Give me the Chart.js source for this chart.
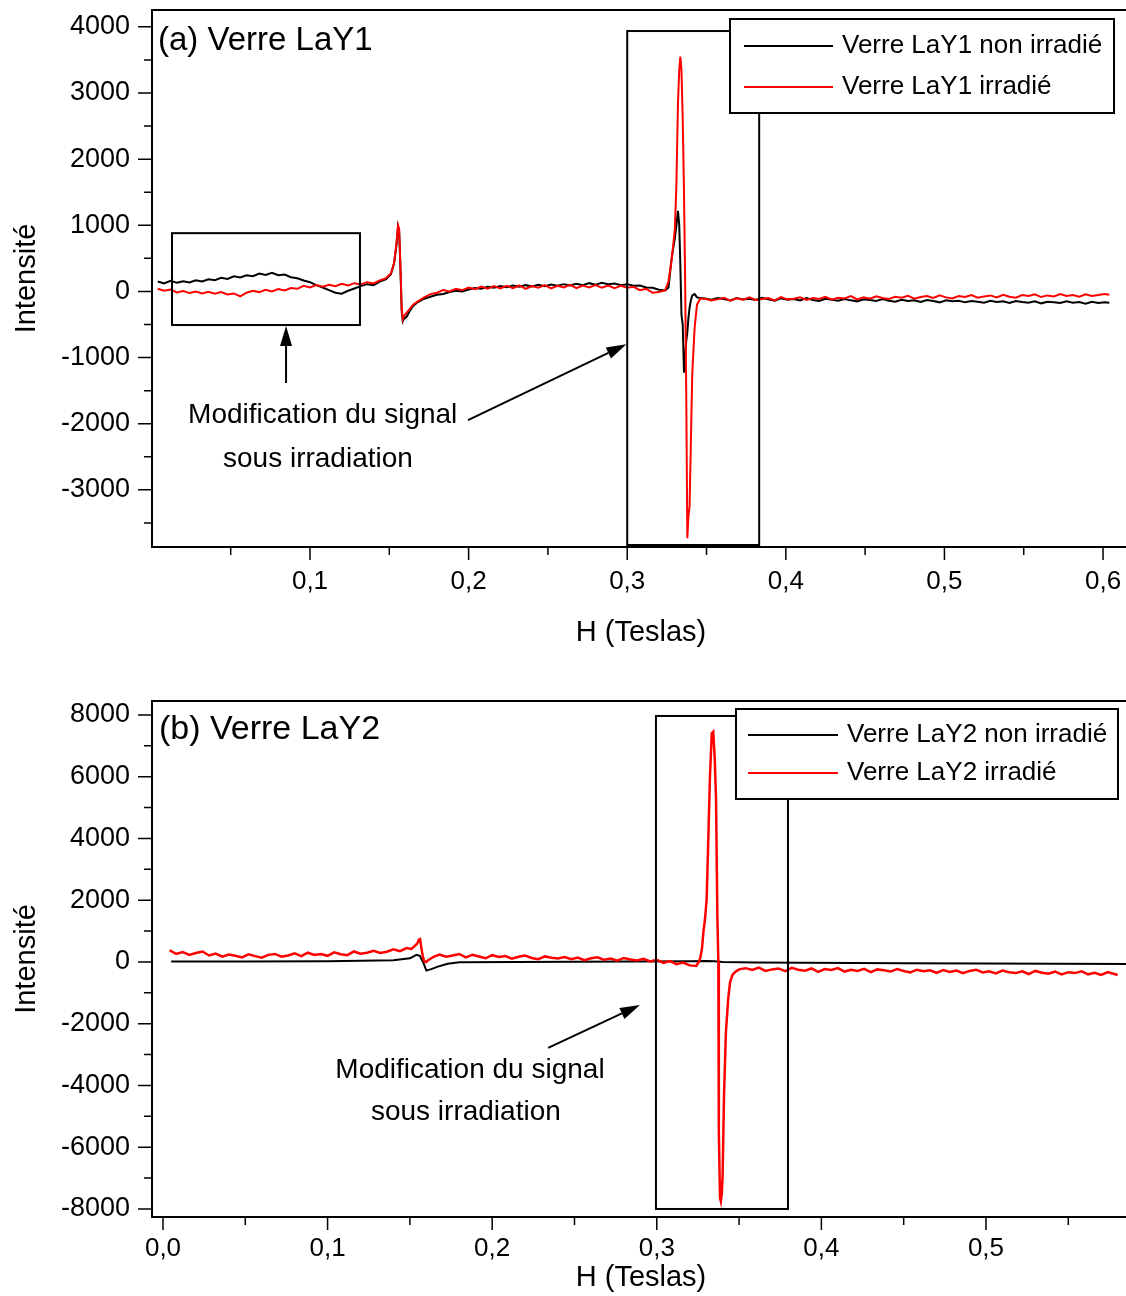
<!DOCTYPE html>
<html>
<head>
<meta charset="utf-8">
<script src="https://cdn.jsdelivr.net/npm/chart.js@4.4.1/dist/chart.umd.min.js"></script>
<style>
  html, body { margin: 0; padding: 0; background: #fff; overflow: hidden; }
  #page { position: relative; width: 1126px; height: 1296px; overflow: hidden; background: #fff; }
  #topWrap { position: absolute; left: 0; top: 0; }
  #botWrap { position: absolute; left: 0; top: 660px; }
</style>
</head>
<body>
<div id="page">
  <div id="topWrap"><canvas id="topChart" width="1130" height="660"></canvas></div>
  <div id="botWrap"><canvas id="botChart" width="1130" height="636"></canvas></div>
</div>
<script>
var FONT = "'Liberation Sans', Arial, Helvetica, sans-serif";

// ---- (a) Verre LaY1 : field (T) and intensities ----
var topH = [
    0.004,0.008,0.012,0.016,0.020,0.024,0.028,0.032,0.036,0.040,0.044,0.048,0.052,0.056,0.060,0.064,0.068,0.072,0.076,0.080,
    0.084,0.088,0.092,0.096,0.100,0.104,0.108,0.112,0.116,0.120,0.124,0.128,0.132,0.136,0.140,0.144,0.148,
    0.151,0.153,0.1545,0.1555,0.1562,0.157,0.1578,0.1585,0.159,0.160,0.161,0.163,0.165,
    0.168,0.172,0.176,0.180,0.184,0.188,0.192,0.196,0.200,0.204,0.208,0.212,0.216,0.220,0.224,0.228,0.232,0.236,0.240,0.244,
    0.248,0.252,0.256,0.260,0.264,0.268,0.272,0.276,0.280,0.284,0.288,0.292,0.296,0.300,0.304,0.308,0.312,0.316,0.320,0.324,
    0.326,0.328,0.329,0.330,0.331,0.332,0.3328,0.3335,0.3342,0.335,0.3358,0.3365,0.3372,0.3379,0.3386,0.3393,0.340,0.341,0.3425,0.344,0.346,
    0.349,0.353,0.357,0.361,0.365,0.369,0.373,0.377,0.381,0.385,0.389,0.393,0.397,0.401,0.405,0.409,0.413,0.417,0.421,0.425,
    0.429,0.433,0.437,0.441,0.445,0.449,0.453,0.457,0.461,0.465,0.469,0.473,0.477,0.481,0.485,0.489,0.493,0.497,0.501,0.505,
    0.509,0.513,0.517,0.521,0.525,0.529,0.533,0.537,0.541,0.545,0.549,0.553,0.557,0.561,0.565,0.569,0.573,0.577,0.581,0.585,
    0.589,0.593,0.597,0.601,0.604
];
var topBlack = [
    150,120,160,130,155,135,170,150,185,170,205,190,230,210,245,230,270,250,280,245,
    255,215,200,165,140,95,60,20,-20,-35,10,45,80,110,95,150,185,
    260,420,700,980,900,350,-300,-450,-420,-400,-380,-290,-220,
    -160,-110,-80,-50,-40,-10,10,0,30,50,40,70,55,80,65,90,70,95,75,100,
    80,105,85,110,90,115,95,125,100,130,110,120,95,110,85,90,60,55,25,15,
    60,500,650,800,1000,1220,1000,400,-350,-500,-1230,-1000,-750,-620,-400,-250,-150,-60,-40,-90,-100,
    -105,-125,-100,-115,-135,-100,-120,-110,-130,-95,-120,-140,-105,-125,-115,-135,-100,-130,-145,-110,
    -125,-140,-115,-135,-150,-120,-130,-145,-115,-140,-155,-125,-145,-135,-160,-130,-145,-165,-135,-150,
    -140,-165,-145,-155,-170,-140,-160,-150,-175,-145,-160,-170,-150,-180,-155,-165,-175,-150,-170,-160,
    -185,-155,-175,-165,-170
];
var topRed = [
    40,10,30,-15,5,-25,0,-30,-5,-35,-10,-45,-30,-75,-20,10,-10,25,0,35,
    15,50,40,85,60,95,70,100,80,115,90,125,105,140,120,165,200,
    270,430,720,1000,950,400,-250,-420,-380,-350,-320,-260,-200,
    -150,-90,-40,-20,20,0,40,20,60,35,75,40,80,45,85,50,90,40,80,55,
    95,45,85,60,100,50,90,60,95,55,90,50,85,55,70,20,40,-20,-10,20,
    150,480,700,930,1600,2850,3350,3550,3350,2600,1500,200,-1500,-3730,-3400,-3250,-2450,-1250,-550,-200,-110,
    -110,-135,-120,-95,-140,-105,-125,-90,-130,-115,-100,-135,-85,-120,-110,-90,-130,-100,-115,-80,
    -125,-95,-105,-70,-120,-90,-110,-75,-100,-115,-80,-95,-65,-110,-85,-70,-100,-60,-90,-105,
    -70,-85,-55,-95,-75,-60,-90,-50,-80,-95,-55,-70,-45,-85,-60,-75,-40,-70,-55,-80,
    -45,-70,-55,-40,-50
];
var topXTicks = [0.05, 0.1, 0.15, 0.2, 0.25, 0.3, 0.35, 0.4, 0.45, 0.5, 0.55, 0.6];
var topYTicks = [-3500, -3000, -2500, -2000, -1500, -1000, -500, 0, 500, 1000, 1500, 2000, 2500, 3000, 3500, 4000];

// ---- (b) Verre LaY2 ----
var botH = [
    0.004,0.008,0.012,0.016,0.020,0.024,0.028,0.032,0.036,0.040,0.044,0.048,0.052,0.056,0.060,0.064,0.068,0.072,0.076,0.080,
    0.084,0.088,0.092,0.096,0.100,0.104,0.108,0.112,0.116,0.120,0.124,0.128,0.132,0.136,0.140,0.144,0.148,
    0.151,0.153,0.1545,0.1555,0.1562,0.157,0.1578,0.1585,0.159,0.160,0.161,0.163,0.165,
    0.168,0.172,0.176,0.180,0.184,0.188,0.192,0.196,0.200,0.204,0.208,0.212,0.216,0.220,0.224,0.228,0.232,0.236,0.240,0.244,
    0.248,0.252,0.256,0.260,0.264,0.268,0.272,0.276,0.280,0.284,0.288,0.292,0.296,0.300,0.304,0.308,0.312,0.316,0.320,0.324,
    0.3255,0.3265,0.3275,0.3283,0.3293,0.3303,0.3313,0.3323,0.3334,0.3343,0.3352,0.3360,0.3368,0.3374,0.3377,0.3384,0.3389,
    0.3395,0.3400,0.3408,0.3420,0.3434,0.3445,0.3460,0.3475,0.3490,0.3505,
    0.354,0.358,0.362,0.366,0.370,0.374,0.378,0.382,0.386,0.390,0.394,0.398,0.402,0.406,0.410,0.414,0.418,0.422,0.426,0.430,
    0.434,0.438,0.442,0.446,0.450,0.454,0.458,0.462,0.466,0.470,0.474,0.478,0.482,0.486,0.490,0.494,0.498,0.502,0.506,0.510,
    0.514,0.518,0.522,0.526,0.530,0.534,0.538,0.542,0.546,0.550,0.554,0.558,0.562,0.566,0.570,0.574,0.578,0.580
];
var botRed = [
    380,260,320,230,290,340,210,270,170,240,200,150,250,190,140,230,260,170,210,280,
    190,300,230,260,200,310,250,220,340,270,300,360,290,330,410,350,450,
    420,520,600,720,740,450,200,60,20,0,60,120,180,
    240,170,210,260,150,230,180,120,220,160,190,110,170,210,130,90,180,140,110,160,
    90,140,60,120,150,70,110,40,130,80,50,100,20,70,-30,30,-70,-20,-110,-130,
    0,150,450,960,1400,2030,3970,6010,7410,7460,6600,5260,1500,0,-5480,-7640,-7750,
    -7500,-6900,-4420,-2270,-1190,-660,-420,-330,-270,-230,
    -200,-260,-180,-290,-240,-210,-300,-190,-250,-280,-210,-320,-230,-260,-200,-310,-250,-290,-220,-330,
    -240,-270,-310,-230,-290,-340,-250,-300,-270,-350,-260,-320,-280,-360,-290,-250,-340,-300,-370,-280,
    -330,-360,-300,-390,-290,-350,-380,-310,-400,-330,-360,-300,-400,-350,-420,-330,-390,-420
];
var botBlackH = [0.005, 0.05, 0.10, 0.14, 0.150, 0.154, 0.156, 0.158, 0.160, 0.163, 0.167, 0.173, 0.180, 0.25, 0.32, 0.33, 0.335, 0.34, 0.36, 0.45, 0.50, 0.59];
var botBlack  = [15, 15, 20, 60, 120, 230, 200, 0, -280, -230, -150, -60, -10, 10, 20, 30, 20, 0, -20, -40, -50, -65];
var botXTicks = [0, 0.05, 0.1, 0.15, 0.2, 0.25, 0.3, 0.35, 0.4, 0.45, 0.5, 0.55];
var botYTicks = [-8000, -7000, -6000, -5000, -4000, -3000, -2000, -1000, 0, 1000, 2000, 3000, 4000, 5000, 6000, 7000, 8000];

function pts(xs, ys) {
    return xs.map(function (h, i) { return { x: h, y: ys[i] }; });
}
function xLabel(v) {
    return Math.round(v * 100) % 10 === 0 ? v.toFixed(1).replace('.', ',') : '';
}

// frame, outward tick marks, boxed legend, panel label and annotations
var decor = {
    id: 'decor',
    afterDraw: function (chart, args, o) {
        var ctx = chart.ctx, a = chart.chartArea, xs = chart.scales.x, ys = chart.scales.y;
        ctx.save();
        ctx.strokeStyle = '#000';
        ctx.fillStyle = '#000';
        ctx.lineWidth = 2;
        ctx.strokeRect(a.left, a.top, a.right - a.left, a.bottom - a.top);

        ctx.lineWidth = 1.5;
        ctx.beginPath();
        xs.ticks.forEach(function (t) {
            var px = xs.getPixelForValue(t.value);
            ctx.moveTo(px, a.bottom);
            ctx.lineTo(px, a.bottom + (t.label ? 13 : 8));
        });
        ys.ticks.forEach(function (t) {
            var py = ys.getPixelForValue(t.value);
            ctx.moveTo(a.left, py);
            ctx.lineTo(a.left - (t.label ? 14 : 8), py);
        });
        ctx.stroke();

        ctx.lineWidth = 2;
        o.boxes.forEach(function (b) {
            var x1 = xs.getPixelForValue(b.x0), x2 = xs.getPixelForValue(b.x1);
            var y1 = ys.getPixelForValue(b.y1), y2 = ys.getPixelForValue(b.y0);
            ctx.strokeRect(x1, y1, x2 - x1, y2 - y1);
        });

        o.arrows.forEach(function (r) {
            var x1 = xs.getPixelForValue(r.from[0]), y1 = ys.getPixelForValue(r.from[1]);
            var x2 = xs.getPixelForValue(r.to[0]), y2 = ys.getPixelForValue(r.to[1]);
            var ang = Math.atan2(y2 - y1, x2 - x1), hl = 20, hw = 6;
            var c = Math.cos(ang), s = Math.sin(ang);
            ctx.beginPath();
            ctx.moveTo(x1, y1);
            ctx.lineTo(x2 - hl * c, y2 - hl * s);
            ctx.stroke();
            ctx.beginPath();
            ctx.moveTo(x2, y2);
            ctx.lineTo(x2 - hl * c + hw * s, y2 - hl * s - hw * c);
            ctx.lineTo(x2 - hl * c - hw * s, y2 - hl * s + hw * c);
            ctx.closePath();
            ctx.fill();
        });

        ctx.font = o.noteFont;
        ctx.textAlign = 'center';
        ctx.textBaseline = 'middle';
        o.notes.forEach(function (n) {
            ctx.fillText(n.text, xs.getPixelForValue(n.x), ys.getPixelForValue(n.y));
        });

        ctx.font = o.labelFont;
        ctx.textAlign = 'left';
        ctx.fillText(o.label, a.left + o.labelDx, a.top + o.labelDy);

        // legend
        var L = o.legend;
        ctx.fillStyle = '#fff';
        ctx.fillRect(L.x, L.y, L.w, L.h);
        ctx.strokeStyle = '#000';
        ctx.lineWidth = 2;
        ctx.strokeRect(L.x, L.y, L.w, L.h);
        ctx.font = L.font;
        chart.data.datasets.forEach(function (ds, i) {
            var yy = L.y + L.rows[i];
            ctx.strokeStyle = ds.borderColor;
            ctx.lineWidth = 2;
            ctx.beginPath();
            ctx.moveTo(L.x + L.line[0], yy);
            ctx.lineTo(L.x + L.line[1], yy);
            ctx.stroke();
            ctx.fillStyle = '#000';
            ctx.fillText(ds.label, L.x + L.text, yy);
        });
        ctx.restore();
    }
};

// fixed scale boxes, no extra room for overflowing tick labels
function noPad(s) {
    s.paddingTop = 0; s.paddingBottom = 0; s.paddingLeft = 0; s.paddingRight = 0;
}
function xScale(min, max, tickList, height, tickPad, titlePad) {
    return {
        type: 'linear', min: min, max: max,
        afterBuildTicks: function (s) { s.ticks = tickList.map(function (v) { return { value: v }; }); },
        afterFit: function (s) { s.height = height; noPad(s); },
        grid: { display: false, drawTicks: false },
        border: { display: false },
        ticks: { callback: xLabel, padding: tickPad, autoSkip: false, maxRotation: 0, color: '#000', font: { family: FONT, size: 26 } },
        title: { display: true, text: 'H (Teslas)', color: '#000', font: { family: FONT, size: 29 }, padding: { top: 0, bottom: titlePad } }
    };
}
function yScale(min, max, tickList, every) {
    return {
        min: min, max: max,
        afterBuildTicks: function (s) { s.ticks = tickList.map(function (v) { return { value: v }; }); },
        afterFit: function (s) { s.width = 152; noPad(s); },
        grid: { display: false, drawTicks: false },
        border: { display: false },
        ticks: {
            callback: function (v) { return v % every === 0 ? String(v) : ''; },
            padding: 22, autoSkip: false, color: '#000', font: { family: FONT, size: 27 }
        },
        title: { display: true, text: 'Intensité', color: '#000', font: { family: FONT, size: 29 }, padding: { top: 10, bottom: 0 } }
    };
}

// ---- Chart (a) ----
new Chart(document.getElementById('topChart'), {
    type: 'line',
    data: {
        datasets: [{
            label: 'Verre LaY1 non irradié',
            data: pts(topH, topBlack),
            borderColor: '#000000', borderWidth: 2, pointRadius: 0, order: 1
        }, {
            label: 'Verre LaY1 irradié',
            data: pts(topH, topRed),
            borderColor: '#ff0000', borderWidth: 2, pointRadius: 0, order: 0
        }]
    },
    options: {
        responsive: false, animation: false, devicePixelRatio: 1,
        layout: { padding: { top: 10, left: 0, right: 0, bottom: 0 } },
        scales: {
            x: xScale(0.000378, 0.617, topXTicks, 113, 19, 10),
            y: yScale(-3864, 4255, topYTicks, 1000)
        },
        plugins: {
            legend: { display: false },
            tooltip: { enabled: false },
            decor: {
                label: '(a) Verre LaY1', labelFont: '33px ' + FONT, labelDx: 6, labelDy: 31,
                noteFont: '28px ' + FONT,
                boxes: [
                    { x0: 0.013, x1: 0.1315, y0: -508, y1: 881 },
                    { x0: 0.300, x1: 0.3832, y0: -3834, y1: 3937 }
                ],
                arrows: [
                    { from: [0.0849, -1385], to: [0.0849, -523] },
                    { from: [0.1996, -1945], to: [0.2995, -800] }
                ],
                notes: [
                    { text: 'Modification du signal', x: 0.108, y: -1867 },
                    { text: 'sous irradiation', x: 0.105, y: -2532 }
                ],
                legend: { x: 730, y: 19, w: 384, h: 94, rows: [27, 68], line: [14, 103], text: 112, font: '26px ' + FONT }
            }
        }
    },
    plugins: [decor]
});

// ---- Chart (b) ----
new Chart(document.getElementById('botChart'), {
    type: 'line',
    data: {
        datasets: [{
            label: 'Verre LaY2 non irradié',
            data: pts(botBlackH, botBlack),
            borderColor: '#000000', borderWidth: 2, pointRadius: 0, order: 1
        }, {
            label: 'Verre LaY2 irradié',
            data: pts(botH, botRed),
            borderColor: '#ff0000', borderWidth: 2.5, pointRadius: 0, order: 0
        }]
    },
    options: {
        responsive: false, animation: false, devicePixelRatio: 1,
        layout: { padding: { top: 41, left: 0, right: 0, bottom: 0 } },
        scales: {
            x: xScale(-0.00668, 0.5875, botXTicks, 79, 16, 1),
            y: yScale(-8260, 8453, botYTicks, 2000)
        },
        plugins: {
            legend: { display: false },
            tooltip: { enabled: false },
            decor: {
                label: '(b) Verre LaY2', labelFont: '34px ' + FONT, labelDx: 7, labelDy: 29,
                noteFont: '28px ' + FONT,
                boxes: [
                    { x0: 0.2995, x1: 0.3797, y0: -8000, y1: 7968 }
                ],
                arrows: [
                    { from: [0.234, -2785], to: [0.2898, -1393] }
                ],
                notes: [
                    { text: 'Modification du signal', x: 0.1865, y: -3498 },
                    { text: 'sous irradiation', x: 0.184, y: -4858 }
                ],
                legend: { x: 736, y: 49, w: 382, h: 90, rows: [26, 64], line: [12, 102], text: 111, font: '26px ' + FONT }
            }
        }
    },
    plugins: [decor]
});
</script>
</body>
</html>
